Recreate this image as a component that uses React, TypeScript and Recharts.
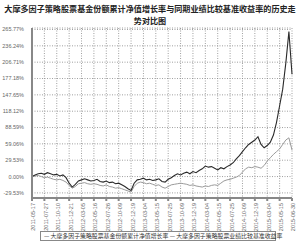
import React from "react";
import { CartesianGrid, Line, LineChart, XAxis, YAxis } from "recharts";

// tick dates along the x axis, one every 4 data points
const dateLabels = [
  "2011-05-17", "2011-07-27", "2011-10-10", "2011-12-21", "2012-03-05", "2012-05-16",
  "2012-07-26", "2012-10-09", "2012-12-19", "2013-03-04", "2013-05-15", "2013-07-25",
  "2013-10-09", "2013-12-19", "2014-03-04", "2014-05-15", "2014-07-25", "2014-10-09",
  "2014-12-19", "2015-03-04", "2015-05-15", "2015-06-30",
];

// fund cumulative NAV growth (%)
const fundPct = [
  0, 3, 5, 6, 4, 7, 5, 3, 4, 1, 3, -2, -12, -19, -14, -8, -6, -4, -6, -8,
  -7, -5, -9, -10, -8, -11, -10, -13, -12, -15, -18, -22, -25, -12, -6, -5, -3, -6, -5, -7,
  -6, -4, -9, -10, -5, -2, 2, 5, 3, 6, 8, 5, 9, 7, 11, 14, 19, 17, 18, 15,
  12, 16, 14, 18, 21, 25, 32, 38, 45, 52, 58, 62, 66, 72, 58, 52, 56, 62, 75, 98,
  128, 158, 205, 262, 185,
];

// benchmark return (%)
const benchPct = [
  0, 1, 2, 0, -2, -1, -3, -5, -6, -5, -7, -10, -16, -21, -18, -13, -12, -11, -13, -14,
  -13, -14, -16, -17, -15, -18, -19, -21, -20, -22, -24, -26, -28, -18, -12, -10, -11, -13, -12, -14,
  -16, -15, -19, -21, -18, -15, -14, -13, -12, -13, -14, -16, -15, -17, -18, -19, -17, -18, -16, -15,
  -16, -12, -8, -6, -5, -3, -1, 2, 8, 14, 17, 16, 18, 17, 15, 20, 28, 34, 40, 45,
  50, 58, 66, 70, 48,
];

const yTicks = [-29.53, 0, 29.53, 59.06, 88.59, 118.12, 147.65, 177.18, 206.71, 236.24, 265.77];

const data = fundPct.map((f, i) => ({ i, fund: f, bench: benchPct[i] }));
const xTicks = dateLabels.map((_, k) => k * 4);

const cjk = '"Noto Sans CJK SC", sans-serif';

function XTick({ x, y, payload }: any) {
  return (
    <text
      x={x}
      y={y}
      dy={2}
      transform={`rotate(-90 ${x} ${y})`}
      textAnchor="end"
      dominantBaseline="middle"
      fontSize={5.5}
      fill="#666"
      fontFamily="Arial, sans-serif"
    >
      {dateLabels[payload.value / 4]}
    </text>
  );
}

export default function App() {
  return (
    <div style={{ position: "absolute", left: 0, top: 0, width: 300, height: 243, background: "#fff" }}>
      <div
        style={{
          position: "absolute",
          left: 0,
          top: 3,
          width: 300,
          textAlign: "center",
          fontFamily: cjk,
          fontWeight: 700,
          fontSize: 8.1,
          lineHeight: "12px",
          color: "#222",
        }}
      >
        <div>大摩多因子策略股票基金份额累计净值增长率与同期业绩比较基准收益率的历史走</div>
        <div>势对比图</div>
      </div>
      <LineChart width={300} height={243} data={data} margin={{ top: 28, right: 8, bottom: 13, left: 2 }}>
        <CartesianGrid stroke="#888" strokeDasharray="1 1.5" strokeWidth={0.8} verticalValues={xTicks} />
        <XAxis
          dataKey="i"
          type="number"
          domain={[0, 84]}
          ticks={xTicks}
          interval={0}
          height={32}
          tick={<XTick />}
          tickSize={3}
          stroke="#888"
          strokeWidth={2}
        />
        <YAxis
          domain={[-38.76, 268.48]}
          ticks={yTicks}
          interval={0}
          width={30}
          tickLine={false}
          tickFormatter={(v: number) => `${v.toFixed(2)}%`}
          tick={{ fontSize: 5.5, fill: "#666", fontFamily: "Arial, sans-serif" }}
          tickMargin={2}
          stroke="#888"
          strokeWidth={2}
        />
        <Line dataKey="bench" stroke="#9a9a9a" strokeWidth={1} dot={false} isAnimationActive={false} />
        <Line dataKey="fund" stroke="#2a2a2a" strokeWidth={1.1} dot={false} isAnimationActive={false} />
      </LineChart>
      <div
        style={{
          position: "absolute",
          left: 40,
          top: 231,
          width: 236,
          height: 10,
          border: "1px solid #888",
          boxSizing: "border-box",
          fontFamily: cjk,
          fontSize: 5.9,
          lineHeight: "8px",
          color: "#333",
          whiteSpace: "nowrap",
          paddingLeft: 3,
        }}
      >
        — 大摩多因子策略股票基金份额累计净值增长率 — 大摩多因子策略股票业绩比较基准收益率
      </div>
    </div>
  );
}
